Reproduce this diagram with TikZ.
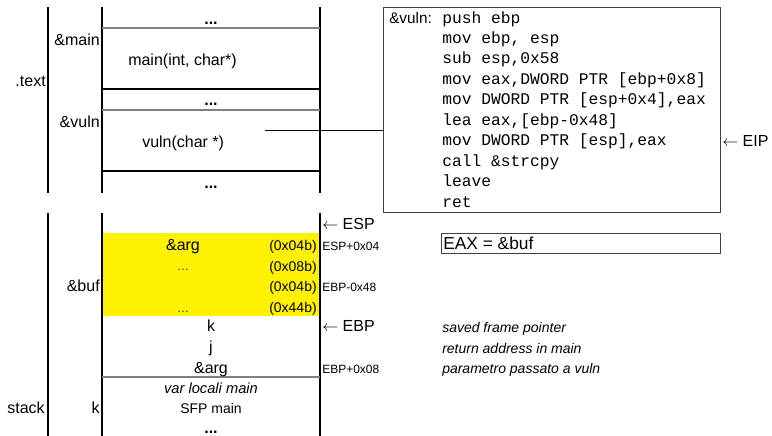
\documentclass[tikz,border=0pt]{standalone}
\usepackage{fontspec}
\setmainfont{Liberation Sans}
\setmonofont{Liberation Mono}
\begin{document}
\begin{tikzpicture}[x=0.75pt,y=-0.75pt,
  vline/.style={draw=black, line width=0.8pt},
  bline/.style={draw=black, line width=0.8pt},
  gline/.style={draw=black!50, line width=1.4pt},
  lbl/.style={inner sep=0pt, font=\fontsize{12}{14}\selectfont},
  hexlbl/.style={inner sep=0pt, font=\fontsize{10.5}{12}\selectfont},
  reglbl/.style={inner sep=0pt, font=\fontsize{9}{11}\selectfont},
  notelbl/.style={inner sep=0pt, font=\fontsize{10.5}{12}\selectfont\itshape},
  codelbl/.style={inner sep=0pt, font=\fontsize{12.2}{14}\selectfont\ttfamily},
  boxstyle/.style={draw=black!75, line width=0.9pt, inner sep=0pt}]
\useasboundingbox (0,0) rectangle (772,436);
% ---------- text section ----------
\draw[vline] (48,7) -- (48,193);
\draw[vline] (102,7) -- (102,193);
\draw[vline] (320,7) -- (320,193);
\draw[gline] (102,28) -- (320,28);
\draw[bline] (102,89) -- (320,89);
\draw[gline] (102,110) -- (320,110);
\draw[bline] (102,171) -- (320,171);
\node[lbl, anchor=base] (dots1) at (211,24) {\textbf{...}};
\node[lbl, anchor=base east] (amain) at (100,45) {\&main};
\node[lbl, anchor=base west] (mainf) at (128,65) {main(int, char*)};
\node[lbl, anchor=base east] (textlbl) at (46,86) {.text};
\node[lbl, anchor=base] (dots2) at (211,105) {\textbf{...}};
\node[lbl, anchor=base east] (avuln) at (100,127) {\&vuln};
\node[lbl, anchor=base west] (vulnf) at (142,147) {vuln(char *)};
\node[lbl, anchor=base] (dots3) at (211,188) {\textbf{...}};
% ---------- code box ----------
\node[boxstyle, anchor=north west, minimum width=337*0.75pt, minimum height=205*0.75pt] (code) at (383,7) {};
\coordinate (vstart) at (265,130.5);
\draw[bline] (vstart) -- (vstart -| code.west);
\node[inner sep=0pt, font=\fontsize{11.5}{14}\selectfont, anchor=base west] (vlab) at (389,23) {\&vuln:};
\foreach \t [count=\i] in {{push ebp},{mov ebp, esp},{sub esp,0x58},{mov eax,DWORD PTR [ebp+0x8]},{mov DWORD PTR [esp+0x4],eax},{lea eax,[ebp-0x48]},{mov DWORD PTR [esp],eax},{call \&strcpy},{leave},{ret}}
  \node[codelbl, anchor=base west] (c\i) at (442,{23+(\i-1)*20.45}) {\t};
\node[lbl, anchor=base west] (eip) at (722,146) {$\leftarrow$ EIP};
% ---------- stack section ----------
\fill[yellow] (102,233) rectangle (320,316);
\draw[vline] (48,213) -- (48,436);
\draw[vline] (102,213) -- (102,436);
\draw[vline] (320,213) -- (320,436);
\draw[gline] (102,377) -- (320,377);
\node[lbl, anchor=base west] (esp) at (322,229) {$\leftarrow$ ESP};
\node[lbl, anchor=base] (arg1) at (183,250) {\&arg};
\node[hexlbl, anchor=base east] (h1) at (317,250) {(0x04b)};
\node[reglbl, anchor=base west] (r1) at (322,250) {ESP+0x04};
\node[lbl, anchor=base, text=black!85] (e2) at (183,270) {\fontsize{9}{12}\selectfont\ldots};
\node[hexlbl, anchor=base east] (h2) at (317,271) {(0x08b)};
\node[lbl, anchor=base east] (abuf) at (100,291) {\&buf};
\node[hexlbl, anchor=base east] (h3) at (317,291) {(0x04b)};
\node[reglbl, anchor=base west] (r3) at (322,291) {EBP-0x48};
\node[lbl, anchor=base, text=black!85] (e4) at (183,312) {\fontsize{9}{12}\selectfont\ldots};
\node[hexlbl, anchor=base east] (h4) at (317,312) {(0x44b)};
\node[lbl, anchor=base] (kk) at (211,331) {k};
\node[lbl, anchor=base west] (ebp) at (322,331) {$\leftarrow$ EBP};
\node[lbl, anchor=base] (jj) at (211,352) {j};
\node[lbl, anchor=base] (arg2) at (211,373) {\&arg};
\node[reglbl, anchor=base west] (r5) at (322,373) {EBP+0x08};
\node[notelbl, font=\fontsize{11}{13}\selectfont\itshape, anchor=base] (vlm) at (211,393) {var locali main};
\node[hexlbl, anchor=base] (sfp) at (211,413) {SFP main};
\node[lbl, anchor=base east] (stacklbl) at (45,413) {stack};
\node[lbl, anchor=base east] (k2) at (100,413) {k};
\node[lbl, anchor=base] (dots4) at (211,433) {\textbf{...}};
% ---------- EAX box and notes ----------
\node[boxstyle, anchor=north west, minimum width=279*0.75pt, minimum height=20*0.75pt] (eaxbox) at (441,233) {};
\node[inner sep=0pt, font=\fontsize{13}{15}\selectfont, anchor=base west] (eax) at (443,249) {EAX = \&buf};
\node[notelbl, anchor=base west] (n1) at (442,332) {saved frame pointer};
\node[notelbl, anchor=base west] (n2) at (442,353) {return address in main};
\node[notelbl, anchor=base west] (n3) at (442,373) {parametro passato a vuln};
\end{tikzpicture}
\end{document}
